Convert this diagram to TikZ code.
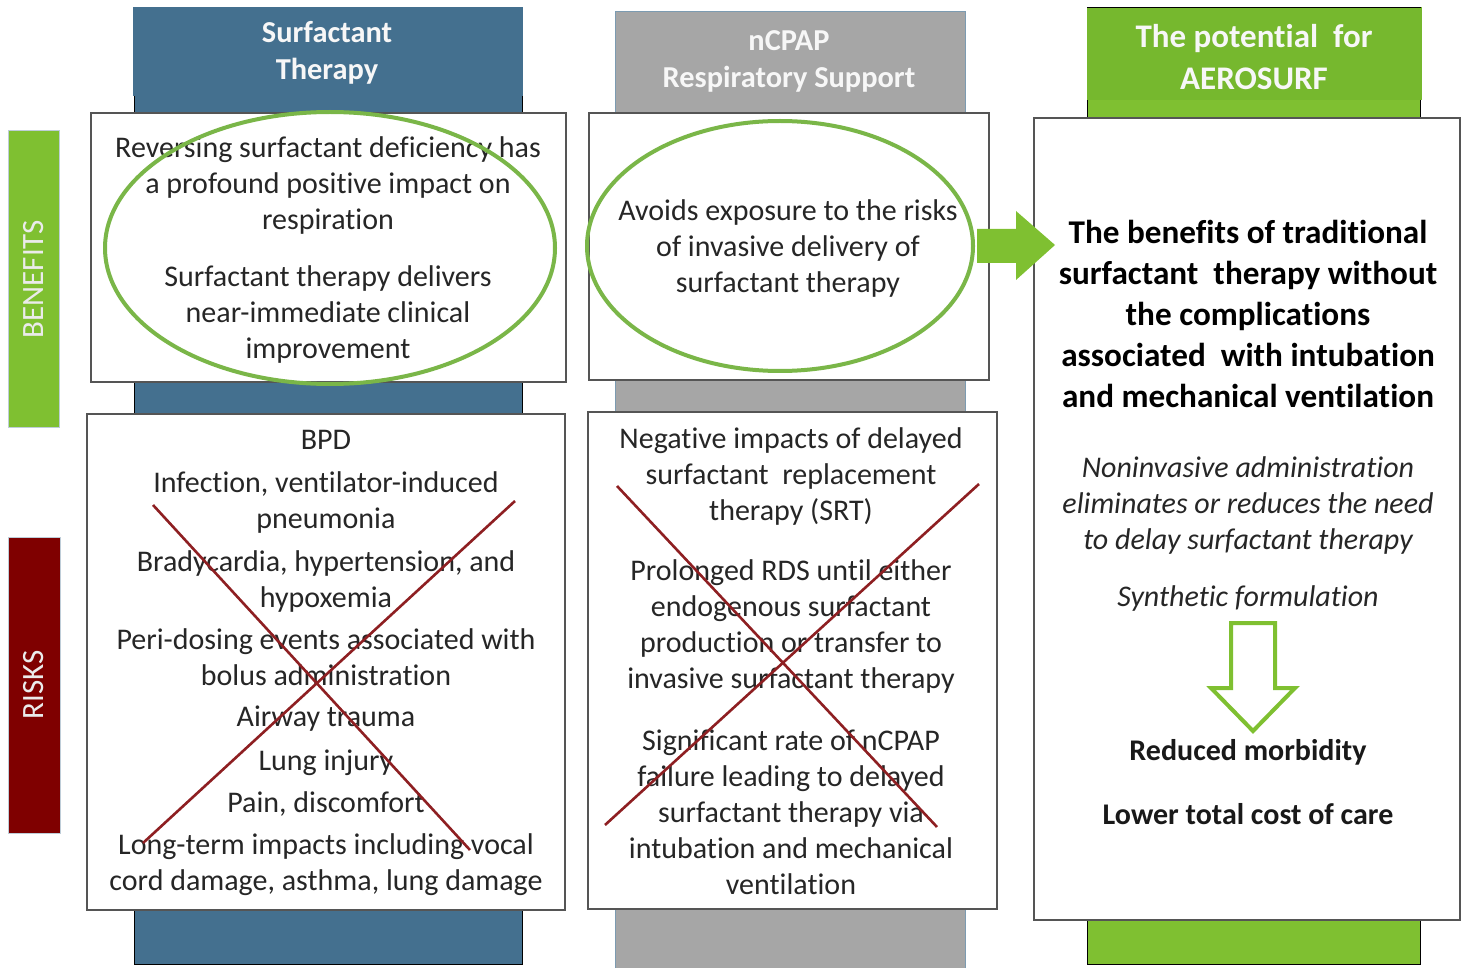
\documentclass[tikz,border=0pt]{standalone}
\usepackage{fontspec}
\usetikzlibrary{shapes.geometric}
\setmainfont[Ligatures=NoCommon]{Carlito}
\definecolor{bluehead}{HTML}{44708F}
\definecolor{grayhead}{HTML}{A6A6A6}
\definecolor{greenhead}{HTML}{76B82E}
\definecolor{greenband}{HTML}{7FC031}
\definecolor{redbar}{HTML}{7F0000}
\definecolor{crossred}{HTML}{8E1F22}
\definecolor{ringgreen}{HTML}{7AB648}
\definecolor{boxline}{HTML}{555555}
\tikzset{
  x=1pt,y=-1pt,
  band/.style={draw=black,line width=1pt},
  whitebox/.style={draw=boxline,fill=white,line width=1.6pt},
  ring/.style={draw=ringgreen,line width=4pt},
  crossline/.style={draw=crossred,line width=2.6pt},
  body/.style={font=\fontsize{30}{36}\selectfont,align=center,text=black!85,inner sep=0pt},
  bodybold/.style={font=\fontsize{33.2}{41}\selectfont\bfseries,align=center,text=black,inner sep=0pt},
  bodyit/.style={font=\fontsize{30}{36}\selectfont\itshape,align=center,text=black!85,inner sep=0pt},
  headtext/.style={font=\fontsize{30.4}{37}\selectfont\bfseries,align=center,text=white!97!black,inner sep=0pt},
  sidetext/.style={font=\fontsize{31}{31}\selectfont,text=white!92!black,rotate=90,inner sep=0pt},
  smallbold/.style={font=\fontsize{30}{34}\selectfont\bfseries,text=black!90,inner sep=0pt},
  sidebar/.style={draw=bluehead!35,line width=1pt,minimum height=296pt,inner sep=0pt},
}
\begin{document}
\begin{tikzpicture}
\useasboundingbox (0,0) rectangle (1468,968);
% column bands
\fill[bluehead] (134,96) rectangle (522,964);
\draw[band] (134,96) -- (134,964) -- (522,964) -- (522,96);
\fill[grayhead] (615,100) rectangle (965,968);
\draw[bluehead!70,line width=1pt] (615,12) -- (615,968) (965,12) -- (965,968);
\fill[greenband] (1087,90) rectangle (1420,964);
\draw[band] (1087,90) -- (1087,964) -- (1420,964) -- (1420,90);
% headers
\node[fill=bluehead,minimum width=390pt,minimum height=89pt,inner sep=0pt] (h1) at (328,51.5) {};
\node[fill=grayhead,draw=bluehead!70,line width=1pt,minimum width=350pt,minimum height=101pt,inner sep=0pt] (h2) at (790,62.5) {};
\node[fill=greenhead,minimum width=335pt,minimum height=93pt,inner sep=0pt] (h3) at (1254.5,53.5) {};
\draw[black,line width=1pt] (1087,7.5) -- (1421,7.5);
\node[headtext] (h1t) at (327,53) {Surfactant\\Therapy};
\node[headtext] (h2t) at (789,61) {nCPAP\\Respiratory Support};
\node[font=\fontsize{33}{42}\selectfont\bfseries,align=center,text=white!97!black,inner sep=0pt] (h3t) at (1254,57) {The potential\ \ for\\AEROSURF};
% side bars
\node[sidebar,fill=greenband,minimum width=51pt] (benefits) at (33.5,279) {};
\node[sidetext] (benefitst) at (34,279) {BENEFITS};
\node[sidebar,fill=redbar,minimum width=52pt] (risks) at (34,685) {};
\node[sidetext] (riskst) at (34,685) {RISKS};
% white boxes
\draw[whitebox] (91,113) rectangle (566,382);
\draw[whitebox] (87,414) rectangle (565,910);
\draw[whitebox] (589,113) rectangle (989,380);
\draw[whitebox] (588,412) rectangle (997,909);
\draw[whitebox] (1034,118) rectangle (1460,920);
% column 1 benefits
\node[body] (a1) at (328,186) {Reversing surfactant deficiency has\\a profound positive impact on\\respiration};
\node[body] (a2) at (328,315) {Surfactant therapy delivers\\near-immediate clinical\\improvement};
\node[ring,ellipse,minimum width=450pt,minimum height=272pt,inner sep=0pt] (e1) at (330,248) {};
% column 2 benefits
\node[body] (b1) at (788,249) {Avoids exposure to the risks\\of invasive delivery of\\surfactant therapy};
\node[ring,ellipse,minimum width=386pt,minimum height=250pt,inner sep=0pt] (e2) at (780,246) {};
% column 1 risks
\node[body] (r1) at (326,440) {BPD};
\node[body] (r2) at (326,503) {Infection, ventilator-induced\\pneumonia};
\node[body] (r3) at (326,582) {Bradycardia, hypertension, and\\hypoxemia};
\node[body] (r4) at (326,657) {Peri-dosing events associated with\\bolus administration};
\node[body] (r5) at (326,719) {Airway trauma};
\node[body] (r6) at (326,763) {Lung injury};
\node[body] (r7) at (326,804) {Pain, discomfort};
\node[body] (r8) at (326,865) {Long-term impacts including vocal\\cord damage, asthma, lung damage};
% column 2 risks
\node[body] (s1) at (791,477) {Negative impacts of delayed\\surfactant\ \ replacement\\therapy (SRT)};
\node[body] (s2) at (791,626) {Prolonged RDS until either\\endogenous surfactant\\production or transfer to\\invasive surfactant therapy};
\node[body] (s3) at (791,812) {Significant rate of nCPAP\\failure leading to delayed\\surfactant therapy via\\intubation and mechanical\\ventilation};
% crosses
\coordinate (c1a) at (153,505); \coordinate (c1b) at (470,850);
\coordinate (c1c) at (515,501); \coordinate (c1d) at (143,843);
\coordinate (c2a) at (617,486); \coordinate (c2b) at (937,827);
\coordinate (c2c) at (979,484); \coordinate (c2d) at (605,825);
\draw[crossline] (c1a) -- (c1b);
\draw[crossline] (c1c) -- (c1d);
\draw[crossline] (c2a) -- (c2b);
\draw[crossline] (c2c) -- (c2d);
% right arrow
\fill[greenband] (977,229) -- (1016,229) -- (1016,211) -- (1055,245) -- (1016,280) -- (1016,263) -- (977,263) -- cycle;
% column 3
\node[bodybold] (g1) at (1248,314) {The benefits of traditional\\surfactant\ \ therapy without\\the complications\\associated\ \ with intubation\\and mechanical ventilation};
\node[bodyit] (g2) at (1248,506) {Noninvasive administration\\eliminates or reduces the need\\to delay surfactant therapy};
\node[bodyit] (g3) at (1248,599) {Synthetic formulation};
\draw[draw=greenband,line width=4pt,fill=white,line join=miter] (1231,623) -- (1275,623) -- (1275,688) -- (1295,688) -- (1253,731) -- (1211,688) -- (1231,688) -- cycle;
\node[smallbold] (g4) at (1248,752) {Reduced morbidity};
\node[smallbold] (g5) at (1248,814) {Lower total cost of care};
\end{tikzpicture}
\end{document}
